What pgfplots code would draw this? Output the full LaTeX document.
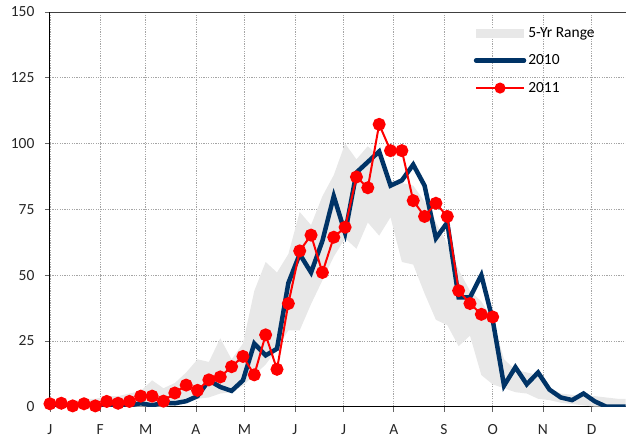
\documentclass[border=0pt]{standalone}
\usepackage{pgfplots}
\pgfplotsset{compat=1.18}
\usepgfplotslibrary{fillbetween}
\usepackage{pgfplotstable}
\usepackage{fontspec}
\setmainfont{Carlito}
\definecolor{navy}{RGB}{0,51,102}
\definecolor{band}{RGB}{232,232,232}
\definecolor{gridc}{RGB}{165,165,165}

\pgfplotstableread{
wk lo up
0 0 1
1 0 1.5
2 0 2
3 0 3
4 0 3
5 0 4
6 0 4
7 0 5
8 0 6
9 0 10
10 0 7
11 0.5 9
12 1.5 13
13 3 18
14 3.5 17
15 5 26
16 5.5 18
17 8 24
18 12 44
19 16 55
20 22 51
21 29 58
22 29 74
23 39 69
24 48 80
25 57 88
26 64 100
27 60 94
28 70 99
29 65 95
30 72 86
31 55 85
32 54 84
33 43 78
34 33 70
35 31 62
36 23 52
37 27 44
38 12 40
39 8.5 33
40 7 18
41 5.5 14
42 5 13
43 3 12
44 2.5 7
45 1.5 5
46 1 4.5
47 0.5 4
48 0 4
49 0 3.5
50 0 3
51 0 3
}\bandtbl

\pgfplotstableread{
wk v
0 0
1 0
2 0
3 0.5
4 0.5
5 0
6 0
7 0.5
8 1.3
9 0.5
10 1.5
11 1.3
12 2.1
13 4
14 10
15 7.5
16 6
17 10
18 24
19 19.5
20 22
21 47
22 58
23 51
24 63
25 80
26 66
27 89
28 93
29 97
30 84
31 86
32 92
33 84
34 64
35 70
36 41.5
37 41.5
38 50
39 33
40 8
41 15
42 8.5
43 13
44 6.5
45 3.5
46 2.5
47 5
48 2
49 0
50 0
51 0
}\tblA

\pgfplotstableread{
wk v
0 1.1
1 1.3
2 0.3
3 1.1
4 0.3
5 2
6 1.3
7 2
8 4
9 4
10 2.1
11 5.2
12 8.2
13 6.2
14 10.2
15 11.3
16 15.2
17 19.1
18 12.1
19 27.3
20 14.2
21 39.2
22 59.2
23 65.2
24 51
25 64.4
26 68.2
27 87.3
28 83.2
29 107.3
30 97.3
31 97.3
32 78.3
33 72.3
34 77.3
35 72.3
36 44.1
37 39.2
38 35.1
39 34.1
}\tblB

\begin{document}
\begin{tikzpicture}
\begin{axis}[
  at={(50pt,33pt)}, anchor=south west,
  scale only axis, width=576pt, height=395pt,
  xmin=0, xmax=50.7, ymin=0, ymax=150,
  axis lines*=left,
  axis line style={black, line width=1pt},
  xtick={0,4.4286,8.4286,12.857,17.143,21.571,25.857,30.286,34.714,39,43.429,47.714},
  xticklabels={J,F,M,A,M,J,J,A,S,O,N,D},
  ytick={0,25,50,75,100,125},
  extra y ticks={150},
  extra y tick style={grid=major, major grid style={solid, black!75, line width=0.9pt}},
  grid=major,
  major grid style={gridc, dash pattern=on 1.2pt off 1.2pt, line width=0.6pt},
  tick align=outside, major tick length=5pt,
  tick style={black!60, line width=0.6pt},
  tick label style={font=\fontsize{15.5}{18}\selectfont, text=black!85},
  yticklabel style={xshift=-7pt},
  xticklabel style={yshift=-9pt},
  /pgf/number format/assume math mode=true,
  legend style={draw=none, fill=none, at={(axis cs:37.32,145)}, anchor=north west,
    cells={anchor=west}, font=\fontsize{15.5}{18}\selectfont, row sep=12pt, inner sep=0pt},
  legend image code/.code={\draw[mark repeat=2,mark phase=2,#1,mark size=4.5pt] plot coordinates {(0pt,0pt) (24pt,0pt) (48pt,0pt)};},
]
\addplot[name path=up, draw=none, forget plot] table[x=wk,y=up]{\bandtbl};
\addplot[name path=lo, draw=none, forget plot] table[x=wk,y=lo]{\bandtbl};
\addplot[fill=band, draw=none, legend image code/.code={\fill[band] (0pt,-4.5pt) rectangle (48pt,4.5pt);}] fill between[of=up and lo];
\addlegendentry{5-Yr Range}
\addplot[navy, line width=4.5pt, line cap=round, no marks] table[x=wk,y=v]{\tblA};
\addlegendentry{2010}
\addplot[red, line width=2pt, mark=*, mark size=5.5pt, mark options={solid, fill=red, draw=none}] table[x=wk,y=v]{\tblB};
\addlegendentry{2011}
\end{axis}
\path (0pt,0pt) rectangle (626pt,440pt);
\end{tikzpicture}
\end{document}
